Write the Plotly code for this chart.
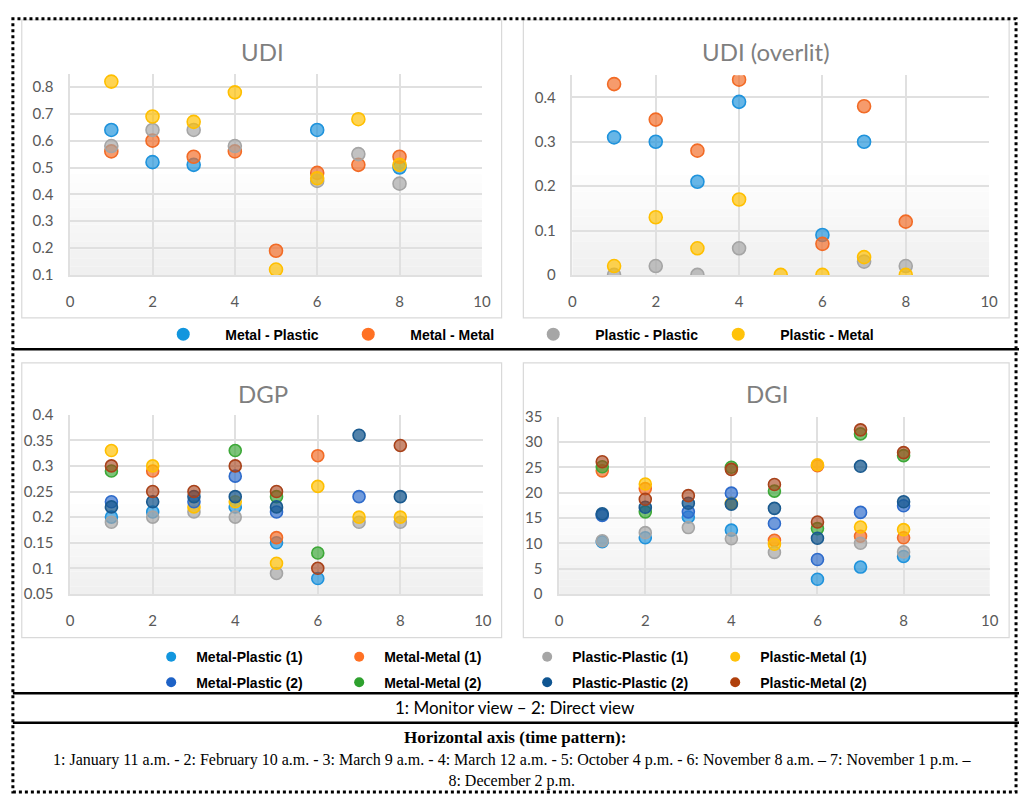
import plotly.graph_objects as go

# ---------------------------------------------------------------- data
time_pattern = [1, 2, 3, 4, 5, 6, 7, 8]

# UDI
udi_metal_plastic = [0.64, 0.52, 0.51, None, None, 0.64, None, 0.50]
udi_metal_metal = [0.56, 0.60, 0.54, 0.56, 0.19, 0.48, 0.51, 0.54]
udi_plastic_plastic = [0.58, 0.64, 0.64, 0.58, None, 0.45, 0.55, 0.44]
udi_plastic_metal = [0.82, 0.69, 0.67, 0.78, 0.12, 0.46, 0.68, 0.51]

# UDI (overlit)
ovl_metal_plastic = [0.31, 0.30, 0.21, 0.39, None, 0.09, 0.30, None]
ovl_metal_metal = [0.43, 0.35, 0.28, 0.44, None, 0.07, 0.38, 0.12]
ovl_plastic_plastic = [0.00, 0.02, 0.00, 0.06, None, None, 0.03, 0.02]
ovl_plastic_metal = [0.02, 0.13, 0.06, 0.17, 0.00, 0.00, 0.04, 0.00]

# DGP  (1: monitor view, 2: direct view)
dgp_mp1 = [0.20, 0.21, None, 0.22, 0.15, 0.08, None, None]
dgp_mm1 = [None, 0.29, None, None, 0.16, 0.32, None, None]
dgp_pp1 = [0.19, 0.20, 0.21, 0.20, 0.09, None, 0.19, 0.19]
dgp_pm1 = [0.33, 0.30, 0.22, 0.23, 0.11, 0.26, 0.20, 0.20]
dgp_mp2 = [0.23, None, 0.23, 0.28, 0.21, None, 0.24, None]
dgp_mm2 = [0.29, None, None, 0.33, 0.24, 0.13, None, None]
dgp_pp2 = [0.22, 0.23, 0.24, 0.24, 0.22, None, 0.36, 0.24]
dgp_pm2 = [0.30, 0.25, 0.25, 0.30, 0.25, 0.10, None, 0.34]

# DGI
dgi_mp1 = [10.3, 11.1, 15.2, 12.6, None, 2.9, 5.3, 7.4]
dgi_mm1 = [24.3, 20.8, None, None, 10.6, 25.3, 11.4, 11.1]
dgi_pp1 = [10.5, 12.1, 13.1, 10.9, 8.2, None, 10.0, 8.3]
dgi_pm1 = [None, 21.7, None, 17.9, 9.8, 25.5, 13.2, 12.7]
dgi_mp2 = [15.5, None, 16.2, 19.9, 13.9, 6.8, 16.1, 17.4]
dgi_mm2 = [25.1, 16.2, None, 25.0, 20.3, 12.9, 31.6, 27.3]
dgi_pp2 = [15.8, 17.1, 17.9, 17.7, 16.9, 11.0, 25.2, 18.2]
dgi_pm2 = [26.1, 18.7, 19.4, 24.6, 21.6, 14.2, 32.4, 27.9]

top_names = ["Metal - Plastic", "Metal - Metal", "Plastic - Plastic", "Plastic - Metal"]
bottom_names = ["Metal-Plastic (1)", "Metal-Metal (1)", "Plastic-Plastic (1)", "Plastic-Metal (1)",
                "Metal-Plastic (2)", "Metal-Metal (2)", "Plastic-Plastic (2)", "Plastic-Metal (2)"]

panel_titles = ["UDI", "UDI (overlit)", "DGP", "DGI"]
view_note = "1: Monitor view \u2013 2: Direct view"
axis_note_title = "Horizontal axis (time pattern):"
axis_note_text = ("1: January 11 a.m. - 2: February 10 a.m. - 3: March 9 a.m. - 4: March 12 a.m. - "
                  "5: October 4 p.m. - 6: November 8 a.m. \u2013 7: November 1 p.m. \u2013<br>"
                  "8: December 2 p.m.")

# ---------------------------------------------------------------- styling
W, H = 1028, 803
edge = ["#1F93DC", "#F26B26", "#A5A5A5", "#FFBF00", "#2E6BCB", "#3DA838", "#1A5A8F", "#A8421A"]
fill = ["rgba(31,147,220,0.68)", "rgba(242,107,38,0.68)", "rgba(165,165,165,0.68)",
        "rgba(255,191,0,0.68)", "rgba(46,107,203,0.68)", "rgba(61,168,56,0.68)",
        "rgba(26,90,143,0.75)", "rgba(168,66,26,0.62)"]
solid = ["#1296DE", "#FF7124", "#A6A6A6", "#FFC20A", "#1E62C6", "#2EA12E", "#0F5591", "#B0400C"]

tick_font = dict(family="Lato, Open Sans, sans-serif", size=15, color="#595959")
title_font = dict(family="Lato, Open Sans, sans-serif", size=24, color="#7F7F7F")
legend_family = "Liberation Sans, Arial, sans-serif"


def px_x(v):
    return v / W


def px_y(v):
    return 1 - v / H


fig = go.Figure()


def add_series(values, idx, xa, ya, size):
    fig.add_trace(go.Scatter(
        x=time_pattern, y=values, mode="markers", xaxis=xa, yaxis=ya,
        showlegend=False, hoverinfo="x+y",
        marker=dict(size=size, color=fill[idx], line=dict(color=edge[idx], width=1.6)),
    ))


for i, vals in enumerate([udi_metal_plastic, udi_metal_metal, udi_plastic_plastic, udi_plastic_metal]):
    add_series(vals, i, "x", "y", 13)
for i, vals in enumerate([ovl_metal_plastic, ovl_metal_metal, ovl_plastic_plastic, ovl_plastic_metal]):
    add_series(vals, i, "x2", "y2", 13)
for i, vals in enumerate([dgp_mp1, dgp_mm1, dgp_pp1, dgp_pm1, dgp_mp2, dgp_mm2, dgp_pp2, dgp_pm2]):
    add_series(vals, i, "x3", "y3", 12)
for i, vals in enumerate([dgi_mp1, dgi_mm1, dgi_pp1, dgi_pm1, dgi_mp2, dgi_mm2, dgi_pp2, dgi_pm2]):
    add_series(vals, i, "x4", "y4", 12)

# legend entries (solid dots)
for i, name in enumerate(top_names):
    fig.add_trace(go.Scatter(x=[None], y=[None], mode="markers", name=name, legend="legend",
                             marker=dict(size=13, color=solid[i]), xaxis="x", yaxis="y"))
for i, name in enumerate(bottom_names):
    fig.add_trace(go.Scatter(x=[None], y=[None], mode="markers", name=name,
                             legend="legend2" if i < 4 else "legend3",
                             marker=dict(size=10, color=solid[i]), xaxis="x3", yaxis="y3"))

# ---------------------------------------------------------------- axes
panels = [
    # (x-left, x-right, y-top, y-bottom) in pixels, y-range, dtick
    ((67, 484, 65, 271), [0.1, 0.85], 0.1),
    ((575.7, 997.7, 66.7, 271), [0, 0.45], 0.1),
    ((67, 485, 414, 597.3), [0.05, 0.4], 0.05),
    ((562.3, 998.3, 416, 597.3), [0, 35], 5),
]
grid_col = "#E0E0E0"
layout_axes = {}
for k, ((xl, xr, yt, yb), yr, dt) in enumerate(panels):
    sfx = "" if k == 0 else str(k + 1)
    layout_axes["xaxis" + sfx] = dict(
        domain=[px_x(xl), px_x(xr)], range=[0, 10], dtick=2, tick0=0, anchor="y" + sfx,
        showgrid=True, gridcolor=grid_col, gridwidth=1.5, zeroline=False,
        showline=True, linecolor=grid_col, linewidth=1.5, ticks="",
        tickfont=tick_font, ticklabelstandoff=12, fixedrange=True,
    )
    layout_axes["yaxis" + sfx] = dict(
        domain=[px_y(yb), px_y(yt)], range=yr, dtick=dt, tick0=0, anchor="x" + sfx,
        showgrid=True, gridcolor=grid_col, gridwidth=1.5, zeroline=False,
        showline=True, linecolor=grid_col, linewidth=1.5, ticks="",
        tickfont=tick_font, ticklabelstandoff=12, fixedrange=True,
    )

# ---------------------------------------------------------------- shapes
shapes = []
# soft shading towards the bottom of each plot area
n_band = 12
for k in range(4):
    sfx = "" if k == 0 else str(k + 1)
    for b in range(n_band):
        t = b / n_band
        g = int(240 + (255 - 240) * t)
        shapes.append(dict(type="rect", xref="x" + sfx + " domain", yref="y" + sfx + " domain",
                           x0=0, x1=1, y0=0.5 * t, y1=0.5 * (t + 1 / n_band),
                           fillcolor=f"rgb({g},{g},{g})", line=dict(width=0), layer="below"))

# chart frames
for (x0, y0, x1, y1) in [(18, 10, 504, 315), (526, 10, 1018, 315), (18, 361, 504, 642), (526, 361, 1018, 642)]:
    shapes.append(dict(type="rect", xref="paper", yref="paper", x0=px_x(x0), x1=px_x(x1),
                       y0=px_y(y1), y1=px_y(y0), line=dict(color="#D9D9D9", width=1.2)))

# outer dotted frame
shapes.append(dict(type="rect", xref="paper", yref="paper", x0=px_x(9), x1=px_x(1025),
                   y0=px_y(800), y1=px_y(9), line=dict(color="black", width=3, dash="dot")))
# solid separators
for yy in [347, 699, 729]:
    shapes.append(dict(type="line", xref="paper", yref="paper", x0=px_x(9), x1=px_x(1028),
                       y0=px_y(yy), y1=px_y(yy), line=dict(color="black", width=2.5)))

# ---------------------------------------------------------------- annotations
annotations = []
for title, (cx, cy) in zip(panel_titles, [(262, 42), (772, 42), (262, 392), (773, 392)]):
    annotations.append(dict(text=title, x=px_x(cx), y=px_y(cy), xref="paper", yref="paper",
                            showarrow=False, font=title_font, xanchor="center", yanchor="middle"))

annotations.append(dict(text=view_note, x=px_x(518), y=px_y(714), xref="paper", yref="paper",
                        showarrow=False, xanchor="center", yanchor="middle",
                        font=dict(family="Lato, Open Sans, sans-serif", size=17, color="black")))
annotations.append(dict(text="<b>" + axis_note_title + "</b>", x=px_x(518), y=px_y(744),
                        xref="paper", yref="paper", showarrow=False, xanchor="center", yanchor="middle",
                        font=dict(family="Liberation Serif, Times New Roman, serif", size=17, color="black")))
annotations.append(dict(text=axis_note_text, x=px_x(514), y=px_y(778), xref="paper", yref="paper",
                        showarrow=False, xanchor="center", yanchor="middle", align="center",
                        font=dict(family="Liberation Serif, Times New Roman, serif", size=16, color="black")))

legend_common = dict(orientation="h", xref="paper", yref="paper", xanchor="left", yanchor="middle",
                     bgcolor="rgba(0,0,0,0)", borderwidth=0, entrywidthmode="pixels",
                     itemclick=False, itemdoubleclick=False)

fig.update_layout(
    width=W, height=H, margin=dict(l=0, r=0, t=0, b=0),
    paper_bgcolor="white", plot_bgcolor="white",
    shapes=shapes, annotations=annotations,
    legend=dict(**legend_common, x=px_x(139), y=px_y(332), itemwidth=74, entrywidth=96,
                font=dict(family=legend_family, size=14, color="black", weight="bold")),
    legend2=dict(**legend_common, x=px_x(144), y=px_y(662), itemwidth=40, entrywidth=133,
                 font=dict(family=legend_family, size=14, color="black", weight="bold")),
    legend3=dict(**legend_common, x=px_x(144), y=px_y(688), itemwidth=40, entrywidth=133,
                 font=dict(family=legend_family, size=14, color="black", weight="bold")),
    **layout_axes,
)

fig.write_html("out.html", config={"displayModeBar": False},
               post_script="document.body.style.margin='0';")
